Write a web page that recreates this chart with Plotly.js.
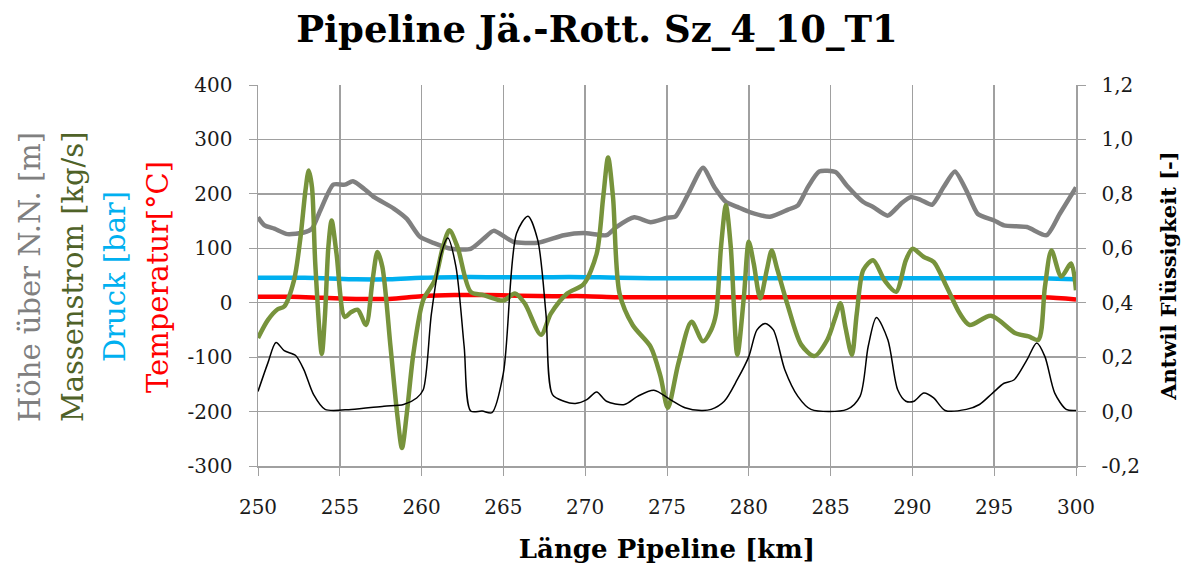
<!DOCTYPE html>
<html>
<head>
<meta charset="utf-8">
<script src="https://cdn.plot.ly/plotly-3.0.1.min.js"></script>
<style>html,body{margin:0;padding:0;background:#fff;}#chart{width:1194px;height:573px;}</style>
</head>
<body>
<div id="chart"></div>
<script>
// Höhe über N.N. [m]
const hoeheKm = [250,250.4,251,251.8,252.8,253.3,253.8,254.6,255.3,255.8,256.5,257.1,258.3,259.1,259.9,260.8,261.8,263,263.8,264.4,265.6,267.1,268.7,269.9,271.3,271.9,273,274,275,275.5,276.3,277.2,277.9,278.6,279.3,280.1,281.3,282.4,283,283.6,284.3,285.3,286,287,287.6,288.5,289.3,289.9,290.5,291.2,291.9,292.6,293.3,294,295,295.6,297,298.2,299,300];
const hoehe = [157,142,136,126,129,136,169,217,217,223,209,194,173,154,121,109,99,99,118,132,112,110,124,128,124,139,157,148,156,158,200,248,212,185,176,166,158,171,179,212,241,240,215,185,176,160,182,194,189,180,212,241,206,163,151,142,139,124,163,212];

// Massenstrom [kg/s]
const massKm = [250,250.6,251.2,251.6,252.2,252.6,252.9,253.1,253.3,253.5,253.9,254.1,254.3,254.5,254.8,255.3,255.7,256.1,256.6,257,257.3,257.6,258.1,258.5,258.8,259.1,259.5,260.1,260.8,261.3,261.7,262.2,263,263.8,265,265.7,266.3,267.3,267.9,268.9,269.9,270.7,271.1,271.4,271.7,272.1,272.9,274,274.6,275.05,275.7,276.5,277.2,277.7,278,278.3,278.6,278.9,279.3,279.7,280,280.3,280.7,281.1,281.4,281.7,282.4,283.2,284,284.8,285.3,285.6,285.9,286.3,286.6,287,287.6,288.3,289,289.6,290,290.7,291.3,292.1,292.9,293.5,294.8,296.3,297.1,297.7,298.1,298.5,299.1,299.7,300];
const mass = [-65,-32,-12,-7,41,121,206,243,212,72,-94,-20,102,151,90,-26,-17,-13,-41,41,93,66,-81,-202,-267,-202,-93,5,41,102,133,102,20,14,4,17,-1,-59,-20,17,34,90,194,267,194,17,-41,-81,-135,-193,-111,-35,-71,-50,-20,102,179,102,-96,11,112,72,8,60,96,66,-7,-77,-98,-68,-26,-1,-44,-96,-20,60,78,41,20,78,99,84,75,29,-20,-41,-24,-56,-62,-68,29,96,48,72,23];

// Druck [bar]
const druckKm = [250,252,254,256,258,260,262,264,266,268,270,272,274,276,278,280,282,284,286,288,290,292,294,296,298,300];
const druck = [46,46,45,43,43,46,47,47,47,47,47,46,45,45,45,45,45,45,45,45,45,45,45,45,45,43];

// Temperatur [°C]
const tempKm = [250,252,254,256,258,260,262,264,266,268,270,272,274,276,278,280,282,284,286,288,290,292,294,296,298,300];
const temp = [11,11,9,7,7,12,14,14,13,12,12,10,10,10,10,10,10,10,10,10,10,10,10,10,10,6];

// Antwil Flüssigkeit [-]
const fluessKm = [250,250.6,251.1,251.6,252.3,252.8,253.4,254.1,255.7,257.7,258.9,259.7,260.1,260.6,261.2,261.6,262.1,262.6,263,263.7,264.3,265,265.8,266.5,267.1,267.6,268,268.7,269.4,270.1,270.7,271.3,272.4,273.2,274.2,275.2,276.1,277.1,277.7,278.5,279.3,280,280.5,281,281.5,282.2,283,283.8,286,286.8,287.3,287.8,288.5,289.1,289.6,290.1,290.7,291.3,292,293.3,294.1,294.9,295.6,296.2,297,297.6,298.1,298.7,299.4,300];
const fluess = [0.074,0.178,0.254,0.224,0.206,0.154,0.062,0.008,0.008,0.02,0.026,0.05,0.08,0.36,0.58,0.638,0.532,0.24,0.002,0.002,-0.004,0.142,0.654,0.718,0.63,0.36,0.062,0.038,0.03,0.044,0.072,0.038,0.026,0.056,0.078,0.044,0.014,0.004,0.008,0.038,0.118,0.202,0.3,0.324,0.3,0.154,0.056,0.008,0.008,0.056,0.24,0.346,0.264,0.08,0.038,0.038,0.068,0.05,0.004,0.008,0.026,0.068,0.104,0.116,0.19,0.252,0.202,0.068,0.008,0.004];

const xTicks = [250,255,260,265,270,275,280,285,290,295,300];
const xTickText = ['250','255','260','265','270','275','280','285','290','295','300'];
const yTicks = [-300,-200,-100,0,100,200,300,400];
const yTickText = ['-300','-200','-100','0','100','200','300','400'];
const y2Ticks = [-0.2,0,0.2,0.4,0.6,0.8,1.0,1.2];
const y2TickText = ['-0,2','0,0','0,2','0,4','0,6','0,8','1,0','1,2'];

const FONT = '"DejaVu Serif", "Liberation Serif", serif';

const traces = [
  {x: hoeheKm, y: hoehe, mode:'lines', line:{color:'#808080', width:4.5, shape:'spline', smoothing:0.6}, name:'Höhe'},
  {x: druckKm, y: druck, mode:'lines', line:{color:'#00B0F0', width:4.5, shape:'spline'}, name:'Druck'},
  {x: tempKm, y: temp, mode:'lines', line:{color:'#FF0000', width:4.5, shape:'spline'}, name:'Temperatur'},
  {x: massKm, y: mass, mode:'lines', line:{color:'#77933C', width:4.5, shape:'spline', smoothing:0.8}, name:'Massenstrom'},
  {x: fluessKm, y: fluess, yaxis:'y2', mode:'lines', line:{color:'#000000', width:1.5, shape:'spline', smoothing:0.8}, name:'Antwil Flüssigkeit'}
];

const gridC = '#A0A0A0';
function tf(){ return {family:FONT, size:20, color:'#1a1a1a'}; }
function ann(text, color, px){
  return {text:text, font:{family:FONT, size:29, color:color}, x:(px-258)/818, y:0.496, xref:'paper', yref:'paper',
    textangle:-90, showarrow:false, xanchor:'center', yanchor:'middle'};
}
const layout = {
  width:1194, height:573,
  margin:{l:258, r:118, t:85, b:107},
  showlegend:false,
  paper_bgcolor:'#fff', plot_bgcolor:'#fff',
  font:{family:FONT, size:20, color:'#000'},
  title:{text:'<b>Pipeline Jä.-Rott. Sz_4_10_T1</b>', font:{family:FONT, size:37, color:'#000'}, x:0.5, xanchor:'center', y:0.95, yanchor:'middle'},
  xaxis:{range:[250,300], tickmode:'array', tickvals:xTicks, ticktext:xTickText, showgrid:true, gridcolor:gridC, gridwidth:1.5,
    showline:true, linecolor:gridC, linewidth:1.5, ticks:'outside', ticklen:8, tickcolor:gridC, zeroline:false,
    tickfont:tf(), ticklabelstandoff:14,
    title:{text:'<b>Länge Pipeline [km]</b>', font:{family:FONT, size:26}, standoff:22}},
  yaxis:{range:[-300,400], tickmode:'array', tickvals:yTicks, ticktext:yTickText, showgrid:true, gridcolor:gridC, gridwidth:1.5,
    showline:true, linecolor:gridC, linewidth:1.5, ticks:'outside', ticklen:8, tickcolor:gridC, zeroline:false,
    tickfont:tf(), ticklabelstandoff:12},
  yaxis2:{range:[-0.2,1.2], tickmode:'array', overlaying:'y', side:'right', tickvals:y2Ticks, ticktext:y2TickText, showgrid:false,
    showline:true, linecolor:gridC, linewidth:1.5, ticks:'outside', ticklen:8, tickcolor:gridC, zeroline:false,
    tickfont:tf(), ticklabelstandoff:12,
    title:{text:'<b>Antwil Flüssigkeit [-]</b>', font:{family:FONT, size:21}, standoff:22}},
  annotations:[
    ann('Höhe über N.N. [m]', '#808080', 30),
    ann('Massenstrom [kg/s]', '#4F6228', 73),
    ann('Druck [bar]', '#00B0F0', 115),
    ann('Temperatur[°C]', '#FF0000', 158)
  ]
};

Plotly.newPlot('chart', traces, layout, {displayModeBar:false, staticPlot:true});
</script>
</body>
</html>
